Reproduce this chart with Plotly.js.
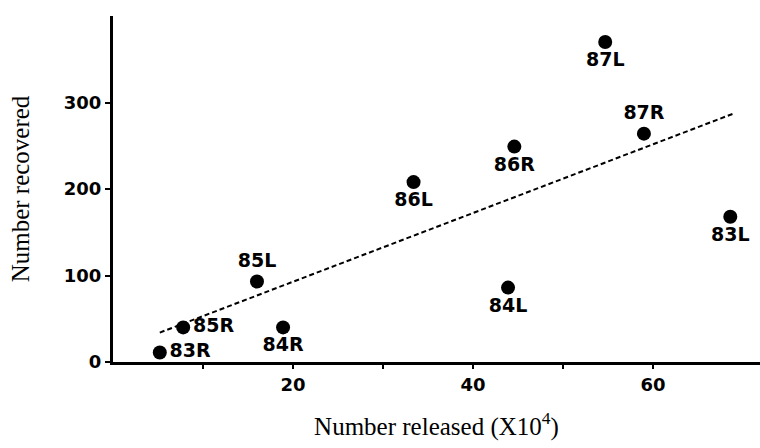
<!DOCTYPE html>
<html>
<head>
<meta charset="utf-8">
<script src="https://cdn.plot.ly/plotly-3.0.1.min.js"></script>
<style>html,body{margin:0;padding:0;background:#fff;}#chart{width:760px;height:448px;}</style>
</head>
<body>
<div id="chart"></div>
<script>
// Data
const labels = ['83R','85R','85L','84R','86L','86R','84L','87L','87R','83L'];
const released = [5.2, 7.8, 16.0, 18.9, 33.4, 44.6, 43.9, 54.7, 59.0, 68.6];
const recovered = [11, 40, 93, 40, 208, 249, 86, 370, 264, 168];
const labelPos = ['middle right','middle right','top center','bottom center','bottom center',
                  'bottom center','bottom center','bottom center','top center','bottom center'];
const trendX = [5.2, 68.9];
const trendY = [34, 287];
const xTickVals = [20, 40, 60];
const xMinorTickVals = [10, 30, 50];
const yTickVals = [0, 100, 200, 300];

const boldFont = {family: 'DejaVu Sans', size: 18, color: '#000', weight: 700};
const serifFont = {family: 'Liberation Serif', size: 25, color: '#000'};

const traces = [
  {
    x: trendX, y: trendY, mode: 'lines', type: 'scatter',
    line: {color: '#000', width: 2, dash: '5px,3px'},
    hoverinfo: 'skip', showlegend: false
  },
  {
    x: released, y: recovered, mode: 'markers+text', type: 'scatter',
    text: labels, textposition: labelPos,
    textfont: {family: 'DejaVu Sans', size: 19, color: '#000', weight: 700},
    marker: {color: '#000', size: 14},
    showlegend: false
  }
];

const layout = {
  width: 760, height: 448,
  margin: {l: 113, r: 0, t: 16, b: 86},
  paper_bgcolor: '#fff', plot_bgcolor: '#fff',
  showlegend: false,
  xaxis: {
    range: [0, 71.9], showgrid: false, zeroline: false,
    showline: true, linecolor: '#000', linewidth: 3,
    ticks: 'outside', ticklen: 4, tickwidth: 2, tickcolor: '#000',
    tickmode: 'array', tickvals: xTickVals,
    minor: {tickmode: 'array', tickvals: xMinorTickVals, ticks: 'outside', ticklen: 4, tickwidth: 2, tickcolor: '#000', showgrid: false},
    tickfont: boldFont, ticklabelstandoff: 0,
    title: {text: 'Number released (X10<sup>4</sup>)', font: serifFont, standoff: 24}
  },
  yaxis: {
    range: [0, 400], showgrid: false, zeroline: false,
    showline: true, linecolor: '#000', linewidth: 3,
    ticks: 'outside', ticklen: 5, tickwidth: 2, tickcolor: '#000',
    tickvals: yTickVals, tickfont: boldFont, ticklabelstandoff: 0,
    title: {text: 'Number recovered', font: serifFont, standoff: 28}
  }
};

Plotly.newPlot('chart', traces, layout, {staticPlot: true, displayModeBar: false});
</script>
</body>
</html>
